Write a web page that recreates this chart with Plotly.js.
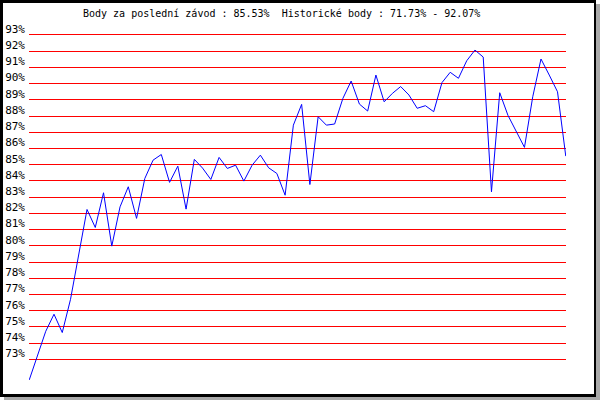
<!DOCTYPE html>
<html>
<head>
<meta charset="utf-8">
<script src="https://cdn.plot.ly/plotly-3.0.1.min.js"></script>
<style>
  html, body { margin: 0; padding: 0; background: #ffffff; }
  #wrap { position: relative; width: 600px; height: 400px; overflow: hidden; background: #ffffff; }
  #chart { position: absolute; left: 0; top: 0; width: 600px; height: 400px; }
  .deco { position: absolute; pointer-events: none; }
</style>
</head>
<body>
<div id="wrap">
  <div id="chart"></div>
  <div class="deco" style="left:596px; top:4px; width:4px; height:396px; background:#a9a9a9;"></div>
  <div class="deco" style="left:4px; top:397px; width:596px; height:3px; background:#a9a9a9;"></div>
  <div class="deco" style="left:0; top:0; width:596px; height:397px; box-sizing:border-box; border-style:solid; border-color:#000; border-width:3px 2px 3px 3px;"></div>
</div>
<script>
const titleText = "Body za poslední závod : 85.53% \u00a0Historické body : 71.73% - 92.07%";

const races = [1,2,3,4,5,6,7,8,9,10,11,12,13,14,15,16,17,18,19,20,
  21,22,23,24,25,26,27,28,29,30,31,32,33,34,35,36,37,38,39,40,
  41,42,43,44,45,46,47,48,49,50,51,52,53,54,55,56,57,58,59,60,
  61,62,63,64,65,66];

const points = [71.73, 73.25, 74.73, 75.78, 74.65, 76.70, 79.46, 82.24, 81.13, 83.27,
  79.98, 82.40, 83.64, 81.69, 84.15, 85.28, 85.63, 83.91, 84.91, 82.26,
  85.33, 84.79, 84.09, 85.45, 84.77, 84.97, 83.99, 84.97, 85.59, 84.81,
  84.46, 83.12, 87.44, 88.72, 83.78, 87.96, 87.44, 87.51, 89.09, 90.16,
  88.74, 88.31, 90.53, 88.88, 89.40, 89.82, 89.30, 88.48, 88.64, 88.27,
  90.06, 90.70, 90.33, 91.41, 92.07, 91.64, 83.33, 89.44, 88.04, 87.01,
  86.07, 89.19, 91.52, 90.53, 89.50, 85.53];

const tickValues = [73,74,75,76,77,78,79,80,81,82,83,84,85,86,87,88,89,90,91,92,93];
const tickLabels = tickValues.map(v => v + "%");

const trace = {
  x: races,
  y: points,
  type: "scatter",
  mode: "lines",
  line: { color: "#0000ff", width: 1 },
  hoverinfo: "skip"
};

const layout = {
  width: 600,
  height: 400,
  margin: { l: 29, r: 34, t: 33, b: 17, pad: 0 },
  paper_bgcolor: "#ffffff",
  plot_bgcolor: "#ffffff",
  showlegend: false,
  title: {
    text: titleText,
    font: { family: "DejaVu Sans Mono", size: 10, color: "#000000" },
    xref: "container", yref: "container",
    x: 83 / 600, xanchor: "left",
    y: 1 - 13.5 / 400, yanchor: "middle"
  },
  xaxis: {
    range: [0.97, 66.03],
    visible: false,
    showgrid: false,
    zeroline: false,
    fixedrange: true
  },
  yaxis: {
    range: [71.538, 93.123],
    tickmode: "array",
    tickvals: tickValues,
    ticktext: tickLabels,
    showgrid: true,
    gridcolor: "#ff0000",
    gridwidth: 1,
    zeroline: false,
    showline: false,
    ticks: "",
    ticklabelshift: -6,
    ticklabelstandoff: 3,
    tickfont: { family: "DejaVu Sans Mono", size: 11, color: "#000000" },
    fixedrange: true
  }
};

Plotly.newPlot("chart", [trace], layout, { staticPlot: true, displayModeBar: false });
</script>
</body>
</html>
